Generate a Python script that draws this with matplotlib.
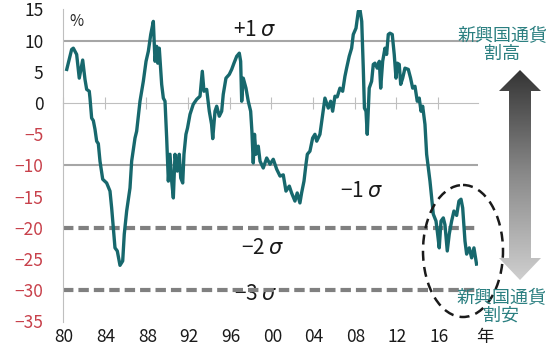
import numpy as np
import matplotlib
matplotlib.use('Agg')
import matplotlib.pyplot as plt
import matplotlib.transforms as mtransforms
from matplotlib.patches import Polygon, Ellipse
from matplotlib.colors import LinearSegmentedColormap

plt.rcParams['font.family'] = ['Noto Sans CJK JP', 'DejaVu Sans']

# deviation from long-run average (%), by year
years = [1980.36, 1980.83, 1980.99, 1981.31, 1981.56, 1981.89, 1982.11, 1982.27, 1982.52, 1982.59,
         1982.75, 1982.91, 1983.07, 1983.23, 1983.39, 1983.55, 1983.81, 1984.19, 1984.51, 1984.67,
         1984.83, 1984.99, 1985.21, 1985.47, 1985.73, 1985.88, 1986.11, 1986.43, 1986.59, 1986.91,
         1987.07, 1987.39, 1987.71, 1987.97, 1988.19, 1988.42, 1988.67, 1988.83, 1988.99, 1989.09,
         1989.24, 1989.47, 1989.63, 1989.79, 1989.95, 1990.11, 1990.27, 1990.43, 1990.59, 1990.75,
         1990.97, 1991.16, 1991.30, 1991.49, 1991.61, 1991.80, 1991.95, 1992.19, 1992.50, 1992.83,
         1993.15, 1993.37, 1993.53, 1993.79, 1994.04, 1994.26, 1994.37, 1994.59, 1994.75, 1995.00,
         1995.23, 1995.38, 1995.64, 1995.96, 1996.19, 1996.41, 1996.67, 1996.92, 1997.05, 1997.15,
         1997.30, 1997.56, 1997.78, 1998.01, 1998.13, 1998.26, 1998.38, 1998.52, 1998.74, 1998.91,
         1999.22, 1999.55, 1999.87, 2000.18, 2000.51, 2000.83, 2001.14, 2001.40, 2001.72, 2001.94,
         2002.26, 2002.48, 2002.74, 2002.90, 2003.13, 2003.32, 2003.45, 2003.70, 2003.96, 2004.18,
         2004.35, 2004.66, 2004.83, 2004.95, 2005.14, 2005.46, 2005.69, 2005.88, 2006.10, 2006.32,
         2006.58, 2006.84, 2007.06, 2007.22, 2007.47, 2007.70, 2007.86, 2008.12, 2008.34, 2008.50,
         2008.67, 2008.82, 2008.93, 2009.08, 2009.20, 2009.39, 2009.62, 2009.78, 2009.94, 2010.16,
         2010.36, 2010.49, 2010.68, 2010.90, 2011.06, 2011.22, 2011.38, 2011.60, 2011.79, 2011.96,
         2012.08, 2012.27, 2012.41, 2012.60, 2012.82, 2013.14, 2013.36, 2013.56, 2013.78, 2014.00,
         2014.19, 2014.36, 2014.52, 2014.74, 2014.90, 2015.06, 2015.22, 2015.38, 2015.54, 2015.80,
         2015.92, 2016.11, 2016.28, 2016.50, 2016.66, 2016.88, 2017.07, 2017.30, 2017.52, 2017.78,
         2018.00, 2018.20, 2018.36, 2018.58, 2018.74, 2018.99, 2019.22, 2019.44, 2019.69]
values = [5.4, 8.6, 8.8, 7.8, 4.0, 6.9, 3.8, 2.2, 1.9, 0.8,
          -2.4, -2.8, -4.2, -6.1, -6.5, -9.3, -12.2, -12.8, -14.1, -16.8,
          -20.0, -23.2, -23.7, -26.0, -25.3, -21.0, -17.3, -13.6, -9.3, -5.6,
          -4.5, 0.3, 3.5, 6.7, 8.3, 11.0, 13.1, 6.7, 9.1, 6.4,
          8.8, 3.0, 0.8, 0.3, -5.6, -12.5, -8.2, -12.5, -15.2, -8.2,
          -10.9, -8.2, -12.0, -12.8, -8.2, -5.0, -4.0, -1.8, -0.2, 0.6,
          1.1, 5.1, 1.9, 2.2, -1.3, -3.4, -5.7, -1.3, -0.5, -2.1,
          -1.3, 1.4, 4.0, 4.6, 5.4, 6.4, 7.5, 8.0, 6.7, 0.3,
          4.0, 2.4, 0.3, -1.3, -4.5, -9.6, -5.0, -8.2, -6.9, -9.3,
          -10.4, -8.8, -9.8, -9.0, -10.6, -11.7, -11.5, -14.1, -13.3, -14.4,
          -15.7, -14.4, -16.0, -14.4, -12.5, -9.8, -8.2, -7.7, -5.6, -5.0,
          -6.1, -5.0, -2.9, -1.3, 0.8, -0.8, 0.3, -1.3, 1.1, 1.0,
          2.4, 1.9, 4.3, 5.6, 7.5, 8.8, 11.0, 12.0, 14.7, 15.0,
          13.1, 5.6, -0.8, -1.3, -5.0, 2.4, 3.5, 6.2, 6.4, 5.6,
          6.7, 2.4, 6.7, 8.8, 7.8, 11.0, 11.2, 11.0, 7.8, 4.0,
          6.4, 6.2, 3.0, 4.0, 5.6, 5.4, 4.0, 2.4, 2.7, 0.3,
          0.8, -1.3, -0.5, -3.4, -8.2, -10.4, -12.5, -15.2, -17.8, -18.9,
          -20.5, -23.2, -18.9, -18.4, -19.5, -23.7, -21.0, -18.9, -17.3, -18.0,
          -15.7, -15.4, -16.8, -22.1, -24.2, -23.2, -24.8, -23.2, -25.8]

sigma_solid = [10, -10]
sigma_dashed = [-20, -30]
sigma_texts = ['+1 $\\sigma$', '\u22121 $\\sigma$', '\u22122 $\\sigma$', '\u22123 $\\sigma$']

year_ticks = [1980, 1984, 1988, 1992, 1996, 2000, 2004, 2008, 2012, 2016]
year_labels = ['80', '84', '88', '92', '96', '00', '04', '08', '12', '16']
y_ticks = [15, 10, 5, 0, -5, -10, -15, -20, -25, -30, -35]

W, H = 550, 348
fig = plt.figure(figsize=(W / 100, H / 100), dpi=100)
ax = fig.add_axes([63 / W, 1 - 321.5 / H, (478 - 63) / W, (321.5 - 9.5) / H])
ax.set_xlim(1980, 2019.83)
ax.set_ylim(-35, 15)

for s in ['top', 'right']:
    ax.spines[s].set_visible(False)
ax.spines['left'].set_color('#BFBFBF')
ax.spines['bottom'].set_position(('data', 0))
ax.spines['bottom'].set_color('#BFBFBF')

ax.set_xticks(year_ticks)
ax.tick_params(axis='x', direction='inout', length=9, color='#BFBFBF', labelbottom=False)
trans = mtransforms.blended_transform_factory(ax.transData, ax.transAxes)
for yr, lab in zip(year_ticks, year_labels):
    ax.text(yr + 0.1, -0.05, lab, transform=trans, ha='center', va='center', fontsize=12.5, color='#1a1a1a')
ax.text(2020.5, -0.05, '年', transform=trans, ha='center', va='center', fontsize=12.5, color='#1a1a1a', clip_on=False)

ax.set_yticks(y_ticks)
ax.set_yticklabels([str(v).replace('-', '\u2212') for v in y_ticks], fontsize=12.5)
for lab, v in zip(ax.get_yticklabels(), y_ticks):
    lab.set_color('#1a1a1a' if v >= 0 else '#C8414B')
ax.tick_params(axis='y', length=0, pad=14)

for v in sigma_solid:
    ax.axhline(v, color='#A6A6A6', lw=1.5, zorder=1)
for v in sigma_dashed:
    ax.axhline(v, color='#808080', lw=3, dashes=(2.5, 1.2), zorder=1)

ax.plot(years, values, color='#17686D', lw=2.4, zorder=3, solid_joinstyle='round')

ax.text(1981.3, 13.1, '%', ha='center', va='center', fontsize=11, color='#262626')
ax.text(1998.4, 11.7, sigma_texts[0], ha='center', va='center', fontsize=15, color='#1a1a1a')
ax.text(2008.7, -14.1, sigma_texts[1], ha='center', va='center', fontsize=15, color='#1a1a1a')
ax.text(1999.2, -23.2, sigma_texts[2], ha='center', va='center', fontsize=15, color='#1a1a1a')
ax.text(1998.5, -30.6, sigma_texts[3], ha='center', va='center', fontsize=15, color='#1a1a1a', zorder=0)

# overlay in pixel units for the arrow, ellipse and side captions
ov = fig.add_axes([0, 0, 1, 1])
ov.set_xlim(0, W)
ov.set_ylim(H, 0)
ov.axis('off')
ov.patch.set_alpha(0)

arrow = Polygon([(520, 70), (541, 91), (531, 91), (531, 258), (541, 258), (520, 280),
                 (499, 258), (509, 258), (509, 91), (499, 91)], closed=True,
                facecolor='none', edgecolor='none')
ov.add_patch(arrow)
cmap = LinearSegmentedColormap.from_list('g', ['#333333', '#8a8a8a', '#d0d0d0'])
grad = np.linspace(0, 1, 256).reshape(-1, 1)
img = ov.imshow(grad, cmap=cmap, extent=(495, 545, 282, 68), aspect='auto', origin='upper')
img.set_clip_path(arrow)

ov.add_patch(Ellipse((463, 251), 80, 132, fill=False, ec='#1a1a1a', lw=1.8, ls=(0, (4, 2.5))))

ov.text(502, 45, '新興国通貨\n割高', ha='center', va='center', fontsize=13,
        color='#2A7F80', linespacing=1.0)
ov.text(501, 307, '新興国通貨\n割安', ha='center', va='center', fontsize=13,
        color='#2A7F80', linespacing=1.0)

fig.savefig('out.png', dpi=100)
